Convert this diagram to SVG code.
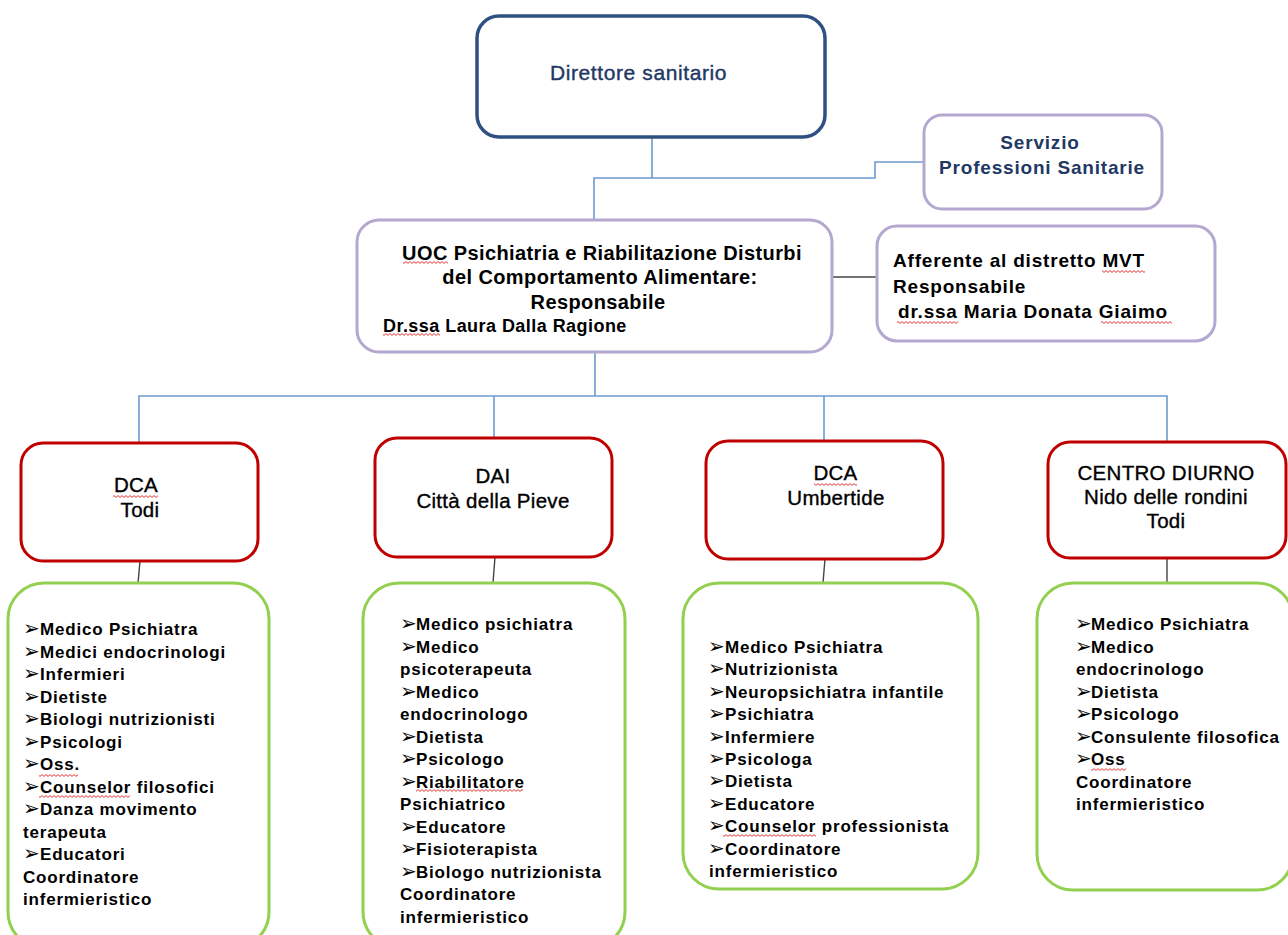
<svg xmlns="http://www.w3.org/2000/svg" width="1288" height="935" viewBox="0 0 1288 935">
<defs>
<pattern id="sq" x="0" y="0" width="4" height="3" patternUnits="userSpaceOnUse">
<polyline points="0,2.4 2,0.6 4,2.4" fill="none" stroke="#e02020" stroke-width="0.9"/>
</pattern>
<style>
.t{font-family:"Liberation Sans",Arial,sans-serif;}
.navy{fill:#1F3864;}
.blk{fill:#000;}
.b{font-weight:bold;}
.lst{font-family:"Liberation Sans",Arial,sans-serif;font-weight:bold;font-size:17px;letter-spacing:0.8px;fill:#000;}
.bul{font-family:"DejaVu Sans",sans-serif;font-weight:normal;font-size:20px;letter-spacing:0;}
.ttl{font-family:"Liberation Sans",Arial,sans-serif;font-size:20.5px;letter-spacing:0.3px;fill:#000;stroke:#000;stroke-width:0.35;text-anchor:middle;}
.red{fill:#fff;stroke:#C00000;stroke-width:3;}
.grn{fill:#fff;stroke:#92D050;stroke-width:3;}
.lav{fill:#fff;stroke:#B4A7D0;stroke-width:3;}
.blue{fill:none;stroke:#6E9AD0;stroke-width:1.6;}
.gray{fill:none;stroke:#444;stroke-width:1.4;}
.sqg{fill:url(#sq);}
</style>
</defs>
<rect width="1288" height="935" fill="#fff"/>

<g id="connectors">
<path class="blue" d="M652 137 V178 H594 V220"/>
<path class="blue" d="M652 178 H875 V162 H923"/>
<path class="blue" d="M595 352 V396"/>
<path class="blue" d="M139 443 V396 H1167 V442"/>
<path class="blue" d="M494 396 V438"/>
<path class="blue" d="M824 396 V441"/>
<path class="gray" d="M832 277 H877"/>
<path class="gray" d="M140 561 L138 583"/>
<path class="gray" d="M495 557 L493 583"/>
<path class="gray" d="M825 559 L823 583"/>
<path class="gray" d="M1167 558 V583"/>
</g>

<g id="direttore">
<rect x="477" y="16" width="348" height="121" rx="22" fill="#fff" stroke="#2E5182" stroke-width="3.5"/>
<text class="t navy" x="638.5" y="80" font-size="21" letter-spacing="0.6" text-anchor="middle" stroke="#1F3864" stroke-width="0.4">Direttore sanitario</text>
</g>

<g id="servizio">
<rect class="lav" x="924" y="115" width="238" height="94" rx="18"/>
<text class="t navy b" font-size="19" letter-spacing="0.8" text-anchor="middle"><tspan x="1040" y="149">Servizio</tspan><tspan x="1042" y="174">Professioni Sanitarie</tspan></text>
</g>

<g id="uoc">
<rect class="lav" x="357" y="220" width="475" height="132" rx="22"/>
<text class="t blk b" font-size="20" letter-spacing="0.4"><tspan x="602" y="260" text-anchor="middle">UOC Psichiatria e Riabilitazione Disturbi</tspan><tspan x="600" y="284" text-anchor="middle">del Comportamento Alimentare:</tspan><tspan x="598" y="309" text-anchor="middle">Responsabile</tspan></text>
<text class="t blk b" x="383" y="332" font-size="18" letter-spacing="0.45">Dr.ssa Laura Dalla Ragione</text>
<rect class="sqg" x="403" y="261" width="45" height="3"/>
<rect class="sqg" x="383" y="333" width="57" height="3"/>
</g>

<g id="afferente">
<rect class="lav" x="877" y="226" width="338" height="115" rx="20"/>
<text class="t blk b" font-size="19" letter-spacing="0.8"><tspan x="893" y="267">Afferente al distretto MVT</tspan><tspan x="893" y="293">Responsabile</tspan><tspan x="898" y="318">dr.ssa Maria Donata Giaimo</tspan></text>
<rect class="sqg" x="1102" y="270" width="43" height="3"/>
<rect class="sqg" x="897" y="321" width="61" height="3"/>
<rect class="sqg" x="1101" y="321" width="71" height="3"/>
</g>

<g id="dca-todi">
<rect class="red" x="21" y="443" width="237" height="118" rx="22"/>
<text class="ttl"><tspan x="136" y="492">DCA</tspan><tspan x="140" y="517">Todi</tspan></text>
<rect class="sqg" x="113" y="495" width="45" height="3"/>
</g>

<g id="dai">
<rect class="red" x="375" y="438" width="237" height="119" rx="22"/>
<text class="ttl"><tspan x="493" y="483">DAI</tspan><tspan x="493" y="508">Città della Pieve</tspan></text>
</g>

<g id="dca-umbertide">
<rect class="red" x="706" y="441" width="237" height="118" rx="22"/>
<text class="ttl"><tspan x="835.5" y="480">DCA</tspan><tspan x="836" y="505">Umbertide</tspan></text>
<rect class="sqg" x="814" y="483" width="43" height="3"/>
</g>

<g id="centro-diurno">
<rect class="red" x="1048" y="442" width="238" height="116" rx="22"/>
<text class="ttl"><tspan x="1166" y="480">CENTRO DIURNO</tspan><tspan x="1166" y="504">Nido delle rondini</tspan><tspan x="1166" y="528">Todi</tspan></text>
</g>

<g id="staff-todi">
<rect class="grn" x="8" y="583" width="261" height="365" rx="36"/>
<text class="lst">
<tspan class="bul" x="23" y="635">➢</tspan><tspan x="40" y="635">Medico Psichiatra</tspan>
<tspan class="bul" x="23" y="657.5">➢</tspan><tspan x="40" y="657.5">Medici endocrinologi</tspan>
<tspan class="bul" x="23" y="680">➢</tspan><tspan x="40" y="680">Infermieri</tspan>
<tspan class="bul" x="23" y="702.5">➢</tspan><tspan x="40" y="702.5">Dietiste</tspan>
<tspan class="bul" x="23" y="725">➢</tspan><tspan x="40" y="725">Biologi nutrizionisti</tspan>
<tspan class="bul" x="23" y="747.5">➢</tspan><tspan x="40" y="747.5">Psicologi</tspan>
<tspan class="bul" x="23" y="770">➢</tspan><tspan x="40" y="770">Oss.</tspan>
<tspan class="bul" x="23" y="792.5">➢</tspan><tspan x="40" y="792.5">Counselor filosofici</tspan>
<tspan class="bul" x="23" y="815">➢</tspan><tspan x="40" y="815">Danza movimento</tspan>
<tspan x="23" y="837.5">terapeuta</tspan>
<tspan class="bul" x="23" y="860">➢</tspan><tspan x="40" y="860">Educatori</tspan>
<tspan x="23" y="882.5">Coordinatore</tspan>
<tspan x="23" y="905">infermieristico</tspan>
</text>
<rect class="sqg" x="39" y="774" width="39" height="3"/>
<rect class="sqg" x="39" y="795" width="91" height="3"/>
</g>

<g id="staff-dai">
<rect class="grn" x="363" y="583" width="262" height="365" rx="36"/>
<text class="lst">
<tspan class="bul" x="400" y="630">➢</tspan><tspan x="416" y="630">Medico psichiatra</tspan>
<tspan class="bul" x="400" y="652.5">➢</tspan><tspan x="416" y="652.5">Medico</tspan>
<tspan x="400" y="675">psicoterapeuta</tspan>
<tspan class="bul" x="400" y="697.5">➢</tspan><tspan x="416" y="697.5">Medico</tspan>
<tspan x="400" y="720">endocrinologo</tspan>
<tspan class="bul" x="400" y="742.5">➢</tspan><tspan x="416" y="742.5">Dietista</tspan>
<tspan class="bul" x="400" y="765">➢</tspan><tspan x="416" y="765">Psicologo</tspan>
<tspan class="bul" x="400" y="787.5">➢</tspan><tspan x="416" y="787.5">Riabilitatore</tspan>
<tspan x="400" y="810">Psichiatrico</tspan>
<tspan class="bul" x="400" y="832.5">➢</tspan><tspan x="416" y="832.5">Educatore</tspan>
<tspan class="bul" x="400" y="855">➢</tspan><tspan x="416" y="855">Fisioterapista</tspan>
<tspan class="bul" x="400" y="877.5">➢</tspan><tspan x="416" y="877.5">Biologo nutrizionista</tspan>
<tspan x="400" y="900">Coordinatore</tspan>
<tspan x="400" y="922.5">infermieristico</tspan>
</text>
<rect class="sqg" x="416" y="789" width="107" height="3"/>
</g>

<g id="staff-umbertide">
<rect class="grn" x="683" y="583" width="295" height="306" rx="36"/>
<text class="lst">
<tspan class="bul" x="708" y="653">➢</tspan><tspan x="725" y="653">Medico Psichiatra</tspan>
<tspan class="bul" x="708" y="675.4">➢</tspan><tspan x="725" y="675.4">Nutrizionista</tspan>
<tspan class="bul" x="708" y="697.8">➢</tspan><tspan x="725" y="697.8">Neuropsichiatra infantile</tspan>
<tspan class="bul" x="708" y="720.2">➢</tspan><tspan x="725" y="720.2">Psichiatra</tspan>
<tspan class="bul" x="708" y="742.6">➢</tspan><tspan x="725" y="742.6">Infermiere</tspan>
<tspan class="bul" x="708" y="765">➢</tspan><tspan x="725" y="765">Psicologa</tspan>
<tspan class="bul" x="708" y="787.4">➢</tspan><tspan x="725" y="787.4">Dietista</tspan>
<tspan class="bul" x="708" y="809.8">➢</tspan><tspan x="725" y="809.8">Educatore</tspan>
<tspan class="bul" x="708" y="832.2">➢</tspan><tspan x="725" y="832.2">Counselor professionista</tspan>
<tspan class="bul" x="708" y="854.6">➢</tspan><tspan x="725" y="854.6">Coordinatore</tspan>
<tspan x="709" y="877">infermieristico</tspan>
</text>
<rect class="sqg" x="723" y="834" width="93" height="3"/>
</g>

<g id="staff-centro-diurno">
<rect class="grn" x="1037" y="583" width="256" height="307" rx="36"/>
<text class="lst">
<tspan class="bul" x="1075" y="630">➢</tspan><tspan x="1091" y="630">Medico Psichiatra</tspan>
<tspan class="bul" x="1075" y="652.5">➢</tspan><tspan x="1091" y="652.5">Medico</tspan>
<tspan x="1076" y="675">endocrinologo</tspan>
<tspan class="bul" x="1075" y="697.5">➢</tspan><tspan x="1091" y="697.5">Dietista</tspan>
<tspan class="bul" x="1075" y="720">➢</tspan><tspan x="1091" y="720">Psicologo</tspan>
<tspan class="bul" x="1075" y="742.5">➢</tspan><tspan x="1091" y="742.5">Consulente filosofica</tspan>
<tspan class="bul" x="1075" y="765">➢</tspan><tspan x="1091" y="765">Oss</tspan>
<tspan x="1076" y="787.5">Coordinatore</tspan>
<tspan x="1076" y="810">infermieristico</tspan>
</text>
<rect class="sqg" x="1091" y="768" width="35" height="3"/>
</g>
</svg>
